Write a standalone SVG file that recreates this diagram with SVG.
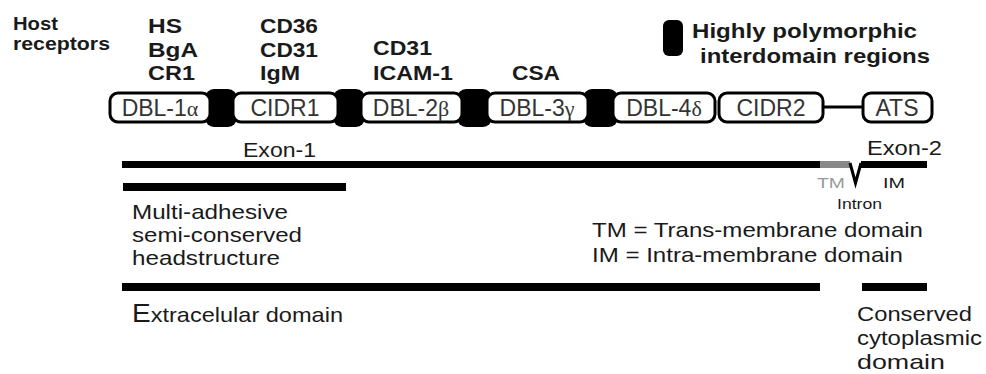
<svg xmlns="http://www.w3.org/2000/svg" width="986" height="374" viewBox="0 0 986 374">
<style>
text{font-family:"Liberation Sans",Arial,sans-serif;fill:#1a1a1a}
.b{font-weight:bold;font-size:21px}
.h{font-weight:bold;font-size:19px}
.dom{fill:#fff;stroke:#000;stroke-width:3}
.dl{font-size:23px;fill:#333;text-anchor:middle}
.gr{font-family:"Liberation Serif","DejaVu Serif",serif;font-size:22px}
.blob{fill:#000}
.bar{fill:#000}
.t{font-size:21px}
.s{font-size:14px}
</style>
<rect width="986" height="374" fill="#fff"/>
<g id="host-receptors">
<text class="h" x="13" y="30" textLength="45" lengthAdjust="spacingAndGlyphs">Host</text>
<text class="h" x="13" y="50" textLength="97" lengthAdjust="spacingAndGlyphs">receptors</text>
</g>
<g id="receptors-dbl1">
<text class="b" x="148" y="33" textLength="34" lengthAdjust="spacingAndGlyphs">HS</text>
<text class="b" x="148" y="57" textLength="50" lengthAdjust="spacingAndGlyphs">BgA</text>
<text class="b" x="148" y="80" textLength="47" lengthAdjust="spacingAndGlyphs">CR1</text>
</g>
<g id="receptors-cidr1">
<text class="b" x="260" y="33" textLength="58" lengthAdjust="spacingAndGlyphs">CD36</text>
<text class="b" x="260" y="57" textLength="58" lengthAdjust="spacingAndGlyphs">CD31</text>
<text class="b" x="260" y="80" textLength="40" lengthAdjust="spacingAndGlyphs">IgM</text>
</g>
<g id="receptors-dbl2">
<text class="b" x="373" y="55" textLength="59" lengthAdjust="spacingAndGlyphs">CD31</text>
<text class="b" x="373" y="80" textLength="80" lengthAdjust="spacingAndGlyphs">ICAM-1</text>
</g>
<g id="receptors-dbl3">
<text class="b" x="512" y="80" textLength="48" lengthAdjust="spacingAndGlyphs">CSA</text>
</g>
<g id="legend-polymorphic">
<rect x="663" y="20" width="20" height="36" rx="6" fill="#000"/>
<text class="b" x="692" y="38" textLength="225" lengthAdjust="spacingAndGlyphs">Highly polymorphic</text>
<text class="b" x="700" y="63" textLength="230" lengthAdjust="spacingAndGlyphs">interdomain regions</text>
</g>
<g id="interdomain-regions">
<rect class="blob" x="205" y="89" width="32" height="38" rx="9"/>
<rect class="blob" x="333" y="89" width="32" height="38" rx="9"/>
<rect class="blob" x="457" y="89" width="35" height="38" rx="9"/>
<rect class="blob" x="583" y="89" width="35" height="38" rx="9"/>
</g>
<g id="connectors">
<line x1="823" y1="107" x2="863" y2="107" stroke="#000" stroke-width="3"/>
</g>
<g id="dbl1">
<rect class="dom" x="110" y="93" width="100" height="29" rx="8"/>
<text class="dl" x="160" y="116">DBL-1<tspan class="gr">α</tspan></text>
</g>
<g id="cidr1">
<rect class="dom" x="233" y="93" width="105" height="29" rx="8"/>
<text class="dl" x="285" y="116">CIDR1</text>
</g>
<g id="dbl2">
<rect class="dom" x="361" y="93" width="101" height="29" rx="8"/>
<text class="dl" x="411" y="116">DBL-2<tspan class="gr">β</tspan></text>
</g>
<g id="dbl3">
<rect class="dom" x="487" y="93" width="101" height="29" rx="8"/>
<text class="dl" x="537" y="116">DBL-3<tspan class="gr">γ</tspan></text>
</g>
<g id="dbl4">
<rect class="dom" x="613" y="93" width="102" height="29" rx="8"/>
<text class="dl" x="664" y="116">DBL-4<tspan class="gr">δ</tspan></text>
</g>
<g id="cidr2">
<rect class="dom" x="719" y="93" width="104" height="29" rx="8"/>
<text class="dl" x="771" y="116">CIDR2</text>
</g>
<g id="ats">
<rect class="dom" x="863" y="93" width="69" height="29" rx="8"/>
<text class="dl" x="897" y="116">ATS</text>
</g>
<g id="exons">
<text class="t" x="243" y="157" textLength="73" lengthAdjust="spacingAndGlyphs">Exon-1</text>
<text class="t" x="867" y="155" textLength="75" lengthAdjust="spacingAndGlyphs">Exon-2</text>
<rect class="bar" x="122" y="161" width="698" height="7"/>
<rect x="820" y="161" width="30" height="7" fill="#888"/>
<polyline points="850,163 855.5,183 861,163" fill="none" stroke="#000" stroke-width="3"/>
<rect class="bar" x="861" y="161" width="66" height="7"/>
<text class="s" x="817" y="188" style="fill:#999" textLength="28" lengthAdjust="spacingAndGlyphs">TM</text>
<text class="s" x="883" y="188" textLength="22" lengthAdjust="spacingAndGlyphs">IM</text>
<text class="s" x="837" y="209" textLength="45" lengthAdjust="spacingAndGlyphs">Intron</text>
</g>
<g id="headstructure">
<rect class="bar" x="123" y="183" width="223" height="8"/>
<text class="t" x="132" y="219" textLength="156" lengthAdjust="spacingAndGlyphs">Multi-adhesive</text>
<text class="t" x="132" y="242" textLength="170" lengthAdjust="spacingAndGlyphs">semi-conserved</text>
<text class="t" x="132" y="265" textLength="148" lengthAdjust="spacingAndGlyphs">headstructure</text>
</g>
<g id="legend-membrane">
<text class="t" x="592" y="237" textLength="331" lengthAdjust="spacingAndGlyphs">TM = Trans-membrane domain</text>
<text class="t" x="592" y="262" textLength="311" lengthAdjust="spacingAndGlyphs">IM = Intra-membrane domain</text>
</g>
<g id="extracellular">
<rect class="bar" x="122" y="283" width="698" height="8"/>
<text class="t" x="132" y="322" textLength="211" lengthAdjust="spacingAndGlyphs"><tspan style="font-size:25px">E</tspan>xtracelular domain</text>
</g>
<g id="cytoplasmic">
<rect class="bar" x="862" y="283" width="65" height="8"/>
<text class="t" x="857" y="321" textLength="115" lengthAdjust="spacingAndGlyphs">Conserved</text>
<text class="t" x="857" y="345" textLength="125" lengthAdjust="spacingAndGlyphs">cytoplasmic</text>
<text class="t" x="857" y="369" textLength="88" lengthAdjust="spacingAndGlyphs">domain</text>
</g>
</svg>
